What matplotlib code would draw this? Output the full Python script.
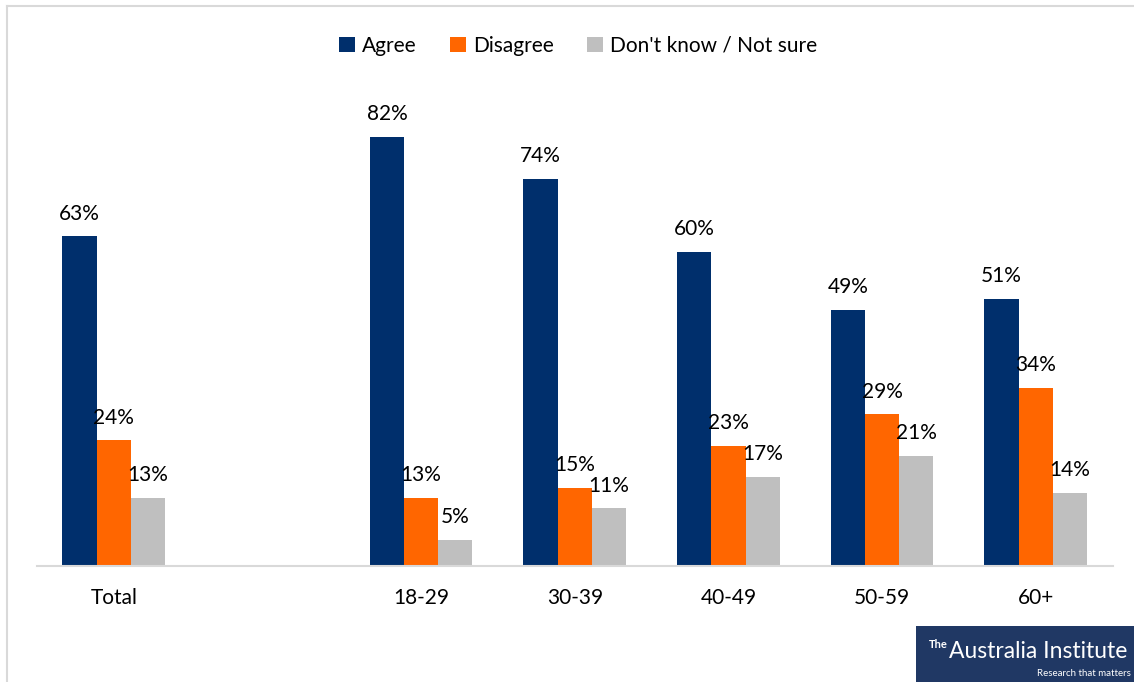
import numpy as np
import matplotlib
matplotlib.use("Agg")
import matplotlib.pyplot as plt
from matplotlib.lines import Line2D
from matplotlib.patches import Rectangle

plt.rcParams['font.family'] = ['Lato', 'DejaVu Sans']

categories = ["Total", "", "18-29", "30-39", "40-49", "50-59", "60+"]
agree = [63, np.nan, 82, 74, 60, 49, 51]
disagree = [24, np.nan, 13, 15, 23, 29, 34]
dont_know = [13, np.nan, 5, 11, 17, 21, 14]
series_names = ["Agree", "Disagree", "Don't know / Not sure"]
colors = ["#002F6C", "#FF6600", "#BFBFBF"]

fig = plt.figure(figsize=(11.34, 6.82), dpi=100)
ax = fig.add_axes([37/1134, 116/682, 1075.5/1134, 471/682])

x = np.arange(len(categories))
w = 0.2227
series = [agree, disagree, dont_know]
for i, (vals, name, col) in enumerate(zip(series, series_names, colors)):
    pos = x + (i - 1) * w
    ax.bar(pos, vals, width=w, color=col, label=name, edgecolor='none')
    for px, v in zip(pos, vals):
        if not np.isnan(v):
            ax.annotate(f"{int(v)}%", (px, v), xytext=(0, 12), textcoords='offset points',
                        ha='center', va='baseline', fontsize=15, color='#000000')

ax.set_xlim(-0.5, len(categories) - 0.5)
ax.set_ylim(0, 90)
ax.set_xticks(x)
ax.set_xticklabels(categories, fontsize=15)
ax.tick_params(axis='x', length=0, pad=16)
ax.set_yticks([])
for s in ['top', 'right', 'left']:
    ax.spines[s].set_visible(False)
ax.spines['bottom'].set_color('#D9D9D9')
ax.spines['bottom'].set_linewidth(1.5)

fig.legend(loc='center', bbox_to_anchor=(578/1134, 1 - 46/682), ncol=3, frameon=False,
           fontsize=15, handlelength=0.75, handleheight=0.75, handletextpad=0.35,
           columnspacing=1.6)

# frame lines
fig.add_artist(Line2D([7/1134, 7/1134], [0, 1 - 6/682], transform=fig.transFigure,
                      color='#D9D9D9', lw=1.5))
fig.add_artist(Line2D([7/1134, 1], [1 - 6/682, 1 - 6/682], transform=fig.transFigure,
                      color='#D9D9D9', lw=1.5))

# logo
fig.add_artist(Rectangle((916/1134, 0), (1134 - 916)/1134, 56/682, transform=fig.transFigure,
                         facecolor='#203864', edgecolor='none'))
fig.text(929/1134, 1 - 644/682, "The", color='white', fontsize=8, va='center', ha='left',
         fontweight='bold')
fig.text(949/1134, 1 - 652/682, "Australia Institute", color='white', fontsize=16.5,
         va='center', ha='left')
fig.text(1131/1134, 1 - 673/682, "Research that matters", color='white', fontsize=7,
         va='center', ha='right')

fig.savefig("out.png", dpi=100)
